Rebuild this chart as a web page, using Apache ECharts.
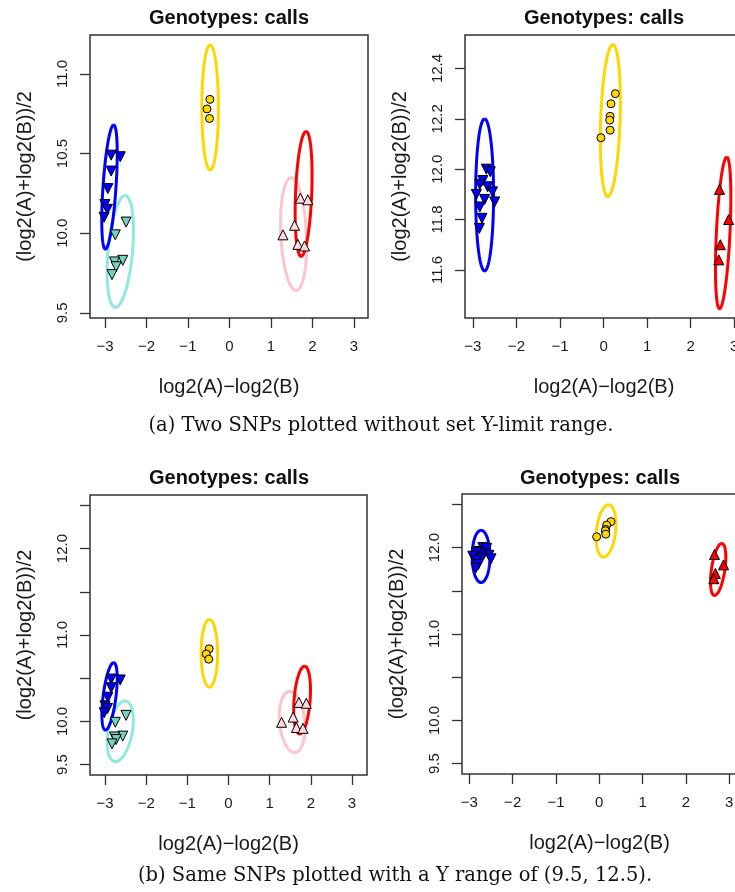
<!doctype html>
<html>
<head>
<meta charset="UTF-8">
<title>Genotypes: calls</title>
<script src="https://cdn.jsdelivr.net/npm/echarts@6/dist/echarts.min.js"></script>
<style>
html,body{margin:0;padding:0;background:#fff;}
#main{width:735px;height:892px;}
</style>
</head>
<body>
<div id="main"></div>
<script>
// tick values
var xTicks = [-3, -2, -1, 0, 1, 2, 3];
var yTicksA1 = [9.5, 10, 10.5, 11];
var yTicksA2 = [11.6, 11.8, 12, 12.2, 12.4];
var yTicksB = [9.5, 10, 10.5, 11, 11.5, 12, 12.5];
var yLabelsB = [9.5, 10, 11, 12];

// SNP 1 calls [x, y]
var snp1Blue = [[-2.85,10.49],[-2.63,10.48],[-2.85,10.39],[-2.93,10.28],[-3.0,10.18],[-2.94,10.15],[-3.02,10.10]];
var snp1Cyan = [[-2.49,10.07],[-2.75,9.99],[-2.57,9.83],[-2.77,9.82],[-2.73,9.79],[-2.83,9.74]];
var snp1Gold = [[-0.47,10.84],[-0.54,10.78],[-0.48,10.72]];
var snp1Pink = [[1.71,10.22],[1.89,10.21],[1.57,10.05],[1.29,9.99],[1.65,9.93],[1.81,9.92]];

// SNP 2 calls [x, y]
var snp2Blue = [[-2.69,12.0],[-2.6,11.99],[-2.77,11.955],[-2.66,11.93],[-2.84,11.94],[-2.55,11.91],
                [-2.92,11.90],[-2.73,11.88],[-2.50,11.87],[-2.84,11.85],[-2.79,11.805],[-2.85,11.765]];
var snp2Gold = [[0.27,12.30],[0.17,12.26],[0.15,12.21],[0.14,12.195],[0.15,12.155],[-0.06,12.125]];
var snp2Red = [[2.66,11.92],[2.87,11.80],[2.68,11.70],[2.645,11.64]];

// ellipses: [cx, cy, ux, uy, vx, vy] (centre + two semi-axis vectors)
var ell1Blue = [-2.89, 10.29, 0.10, 0.39, 0.157, 0];
var ell1Cyan = [-2.63, 9.886, 0.116, 0.351, 0.296, 0];
var ell1Gold = [-0.465, 10.789, 0, 0.392, 0.20, 0];
var ell1Red  = [1.788, 10.247, 0.06, 0.392, 0.195, 0];
var ell1Pink = [1.547, 9.994, -0.06, 0.354, 0.308, 0];
var ell2Blue = [-2.73, 11.898, 0, 0.302, 0.206, 0];
var ell2Gold = [0.156, 12.193, 0.057, 0.302, 0.222, 0];
var ell2Red  = [2.745, 11.747, 0.083, 0.301, 0.156, 0];

var sans = '"Liberation Sans", Arial, sans-serif';
var serif = '"DejaVu Serif", "Liberation Serif", serif';
var txt = '#1a1a1a';

var myChart = echarts.init(document.getElementById('main'), null, {renderer: 'canvas'});

var grids = [], xAxes = [], yAxes = [], series = [];

//画椭圆
function ellipseItem(params, api) {
	var cx = api.value(0), cy = api.value(1), ux = api.value(2), uy = api.value(3), vx = api.value(4), vy = api.value(5);
	var pts = [];
	for (var k = 0; k <= 90; k++) {
		var t = k / 90 * Math.PI * 2;
		pts.push(api.coord([cx + ux * Math.cos(t) + vx * Math.sin(t), cy + uy * Math.cos(t) + vy * Math.sin(t)]));
	}
	return {type: 'polyline', shape: {points: pts}, style: {fill: 'none', stroke: api.visual('color'), lineWidth: 3}};
}

function panel(box, xr, yr, yTicks, yLabels) {
	var i = grids.length;
	grids.push({left: box[0], top: box[1], width: box[2], height: box[3], show: true,
		outerBoundsMode: 'none', containLabel: false,
		borderColor: '#333', borderWidth: 1.5, backgroundColor: 'transparent'});
	xAxes.push({
		gridIndex: i, type: 'value', min: xr[0], max: xr[1], position: 'bottom',
		axisLine: {show: false, onZero: false}, splitLine: {show: false},
		axisTick: {show: true, length: 10, lineStyle: {color: '#333', width: 1.3}, customValues: xTicks},
		axisLabel: {customValues: xTicks, margin: 21, fontSize: 15, fontFamily: sans, color: txt,
			formatter: function (v) { return String(v).replace('-', '\u2212'); }},
		name: 'log2(A)\u2212log2(B)', nameLocation: 'middle', nameGap: 59,
		nameTextStyle: {fontSize: 20, fontFamily: sans, color: txt}
	});
	yAxes.push({
		gridIndex: i, type: 'value', min: yr[0], max: yr[1], position: 'left',
		axisLine: {show: false, onZero: false}, splitLine: {show: false},
		axisTick: {show: true, length: 10, lineStyle: {color: '#333', width: 1.3}, customValues: yTicks},
		axisLabel: {customValues: yLabels, rotate: 90, margin: 20, fontSize: 15, fontFamily: sans, color: txt,
			formatter: function (v) { return v.toFixed(1); }},
		name: '(log2(A)+log2(B))/2', nameLocation: 'middle', nameGap: 55,
		nameTextStyle: {fontSize: 20, fontFamily: sans, color: txt}
	});
	return i;
}

function ell(i, d, color) {
	series.push({type: 'custom', xAxisIndex: i, yAxisIndex: i, renderItem: ellipseItem,
		itemStyle: {color: color}, data: [d], silent: true, z: 2});
}
function pts(i, d, symbol, rot, size, color) {
	series.push({type: 'scatter', xAxisIndex: i, yAxisIndex: i, data: d, symbol: symbol,
		symbolRotate: rot, symbolSize: size, silent: true, z: 3,
		itemStyle: {color: color, borderColor: '#000', borderWidth: 1, opacity: 1}});
}

function snp1(i) {
	ell(i, ell1Pink, '#ffc4c8');
	ell(i, ell1Cyan, '#8ee9da');
	ell(i, ell1Blue, '#0000ff');
	ell(i, ell1Gold, '#ffd700');
	ell(i, ell1Red, '#ff0000');
	pts(i, snp1Blue, 'triangle', 180, 10, '#0000ff');
	pts(i, snp1Cyan, 'triangle', 180, 10, '#74d2bd');
	pts(i, snp1Gold, 'circle', 0, 8, '#ffd700');
	pts(i, snp1Pink, 'triangle', 0, 10, '#ffd8de');
}
function snp2(i) {
	ell(i, ell2Blue, '#0000ff');
	ell(i, ell2Gold, '#ffd700');
	ell(i, ell2Red, '#ff0000');
	pts(i, snp2Blue, 'triangle', 180, 10, '#0000ff');
	pts(i, snp2Gold, 'circle', 0, 8, '#ffd700');
	pts(i, snp2Red, 'triangle', 0, 10, '#ff0000');
}

snp1(panel([90, 35, 278, 283], [-3.36, 3.34], [9.468, 11.244], yTicksA1, yTicksA1));
snp2(panel([465, 35, 278, 283], [-3.18, 3.2], [11.409, 12.533], yTicksA2, yTicksA2));
snp1(panel([90, 495, 277, 280], [-3.365, 3.365], [9.38, 12.62], yTicksB, yLabelsB));
snp2(panel([462, 494, 275, 280], [-3.17, 3.18], [9.38, 12.62], yTicksB, yLabelsB));

function label(x, y, text, font) {
	return {type: 'text', x: x, y: y, silent: true,
		style: {text: text, align: 'center', verticalAlign: 'middle', font: font, fill: '#111'}};
}

var option = {
	animation: false,
	grid: grids,
	xAxis: xAxes,
	yAxis: yAxes,
	series: series,
	graphic: [
		label(229, 18, 'Genotypes: calls', 'bold 20px ' + sans),
		label(604, 18, 'Genotypes: calls', 'bold 20px ' + sans),
		label(229, 478, 'Genotypes: calls', 'bold 20px ' + sans),
		label(600, 478, 'Genotypes: calls', 'bold 20px ' + sans),
		label(381, 426, '(a) Two SNPs plotted without set Y-limit range.', '19.5px ' + serif),
		label(395, 876, '(b) Same SNPs plotted with a Y range of (9.5, 12.5).', '19.5px ' + serif)
	]
};
myChart.setOption(option);
</script>
</body>
</html>
